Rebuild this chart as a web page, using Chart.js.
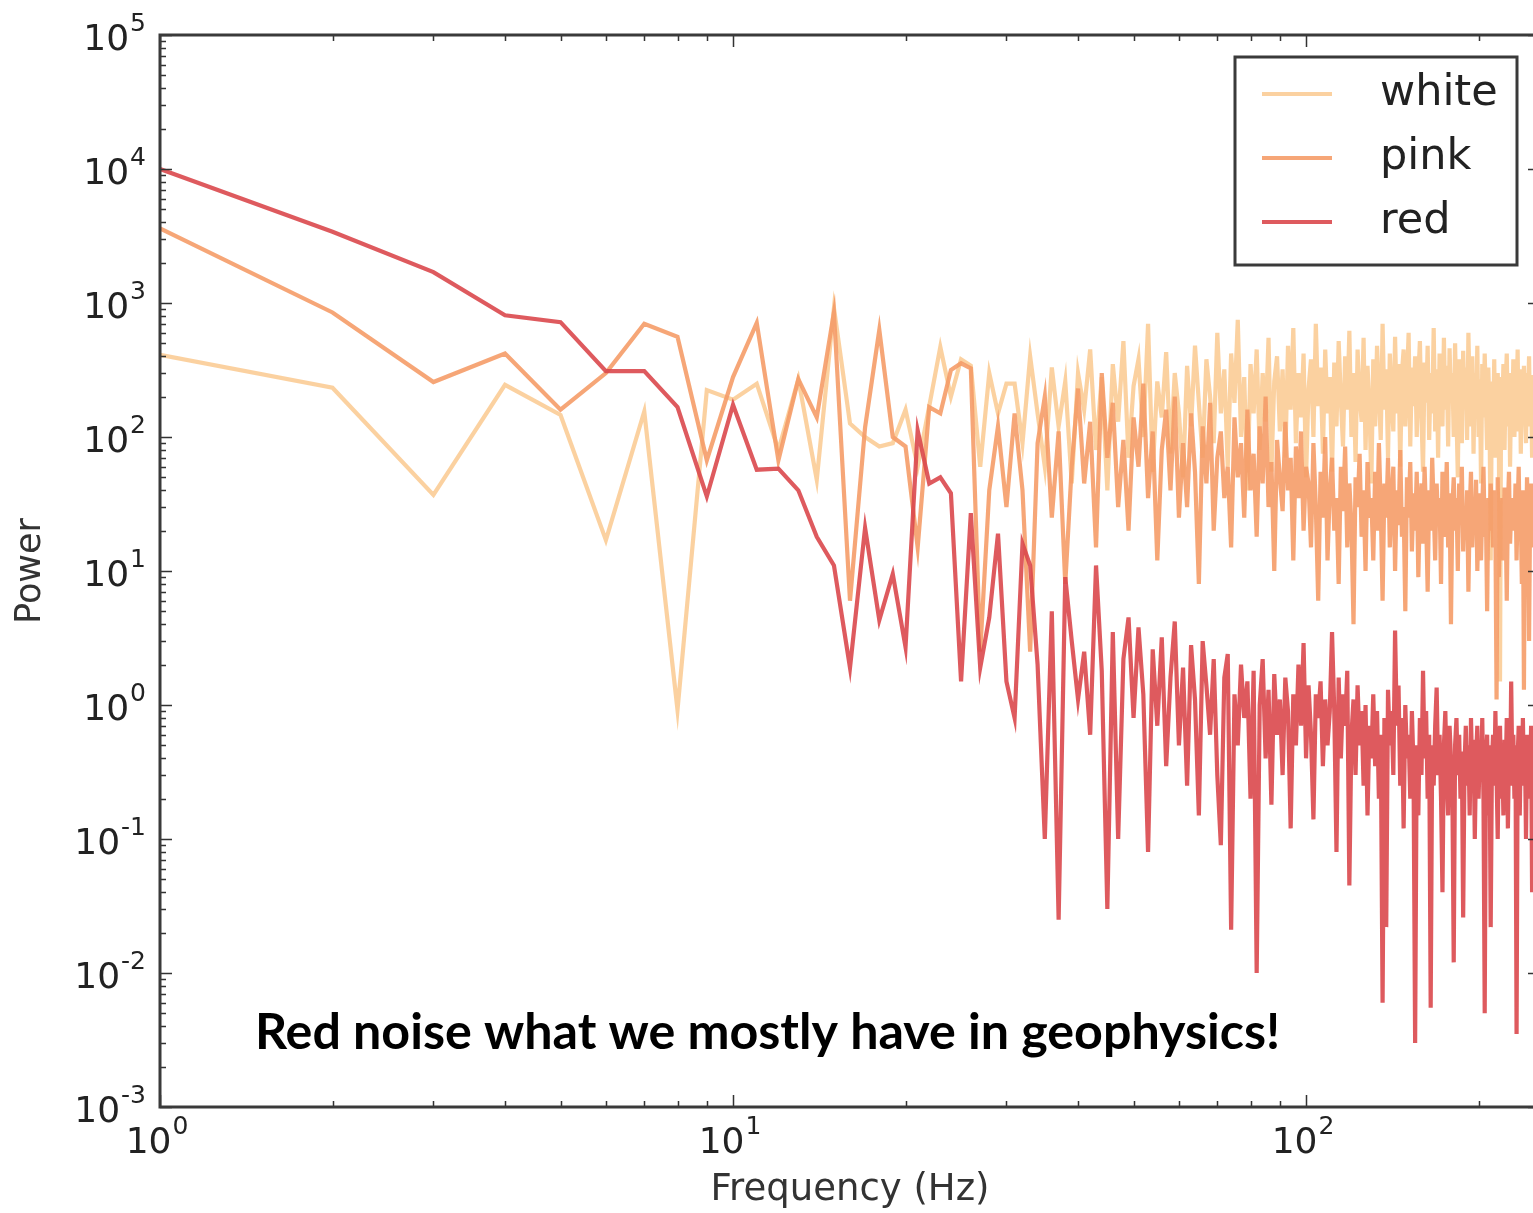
<!DOCTYPE html>
<html>
<head>
<meta charset="utf-8">
<script src="https://cdn.jsdelivr.net/npm/chart.js@4.4.1/dist/chart.umd.min.js"></script>
<style>
  html, body { margin: 0; padding: 0; background: #fff; overflow: hidden; }
  #wrap { position: relative; width: 1550px; height: 1213px; }
</style>
</head>
<body>
<div id="wrap"><canvas id="noise" width="1550" height="1213"></canvas></div>
<script>
// frequency bins (Hz)
const freqs = [
  1,2,3,4,5,6,7,8,9,10,
  11,12,13,14,15,16,17,18,19,20,
  21,22,23,24,25,26,27,28,29,30,
  31,32,33,34,35,36,37,38,39,40,
  41,42,43,44,45,46,47,48,49,50,
  51,52,53,54,55,56,57,58,59,60,
  61,62,63,64,65,66,67,68,69,70,
  71,72,73,74,75,76,77,78,79,80,
  81,82,83,84,85,86,87,88,89,90,
  91,92,93,94,95,96,97,98,99,100,
  101,102,103,104,105,106,107,108,109,110,
  111,112,113,114,115,116,117,118,119,120,
  121,122,123,124,125,126,127,128,129,130,
  131,132,133,134,135,136,137,138,139,140,
  141,142,143,144,145,146,147,148,149,150,
  151,152,153,154,155,156,157,158,159,160,
  161,162,163,164,165,166,167,168,169,170,
  171,172,173,174,175,176,177,178,179,180,
  181,182,183,184,185,186,187,188,189,190,
  191,192,193,194,195,196,197,198,199,200,
  201,202,203,204,205,206,207,208,209,210,
  211,212,213,214,215,216,217,218,219,220,
  221,222,223,224,225,226,227,228,229,230,
  231,232,233,234,235,236,237,238,239,240,
  241,242,243,244,245,246,247,248,249,250
];

const whitePower = [
  410, 233, 37, 245, 146, 17, 155, 0.92, 224, 190,
  250, 80, 270, 48, 920, 126, 100, 85, 90, 160,
  60, 170, 470, 200, 380, 340, 60, 300, 150, 250,
  250, 90, 400, 150, 60, 330, 120, 260, 45, 300,
  160, 450, 80, 280, 40, 350, 130, 520, 70, 240,
  380, 100, 700, 55, 260, 140, 430, 75, 300, 150,
  50, 340, 120, 480, 180, 70, 380, 200, 90, 600,
  150, 320, 60, 420, 180, 750, 100, 280, 40, 350,
  150, 450, 80, 300, 130, 550, 55, 260, 400, 110,
  320, 70, 480, 160, 650, 90, 300, 140, 420, 50,
  230, 380, 100, 700, 170, 330, 75, 450, 150, 280,
  55, 360, 120, 520, 190, 85, 400, 160, 620, 100,
  300, 65, 450, 200, 130, 550, 80, 340, 170, 45,
  380, 120, 480, 210, 95, 700, 160, 320, 70, 420,
  190, 110, 560, 150, 350, 60, 300, 450, 120, 260,
  600, 85, 330, 170, 400, 100, 280, 520, 140, 55,
  360, 180, 480, 95, 300, 150, 650, 110, 320, 70,
  420, 200, 120, 550, 160, 340, 85, 460, 180, 300,
  100, 500, 150, 50, 380, 210, 90, 440, 170, 330,
  95, 600, 200, 120, 400, 75, 300, 160, 480, 100,
  270, 45, 350, 140, 420, 180, 80, 330, 150, 12,
  260, 110, 380, 70, 240, 300, 95, 1.5, 280, 150,
  350, 80, 250, 420, 120, 300, 60, 260, 150, 380,
  100, 280, 170, 450, 110, 320, 75, 250, 140, 340,
  160, 90, 300, 200, 400, 120, 230, 70, 290, 150
];

const pinkPower = [
  3600, 850, 257, 420, 160, 300, 700, 560, 67, 280,
  710, 67, 270, 140, 850, 6, 118, 630, 100, 85,
  15, 167, 150, 316, 355, 325, 2.5, 40, 120, 30,
  150, 40, 2.5, 90, 200, 25, 110, 8, 60, 230,
  45, 130, 15, 300, 70, 180, 30, 95, 20, 140,
  60, 250, 35, 110, 12, 80, 160, 40, 200, 25,
  90, 30, 150, 55, 8, 120, 45, 180, 20, 70,
  110, 35, 60, 15, 140, 50, 90, 25, 160, 40,
  75, 18, 120, 45, 200, 30, 65, 10, 95, 50,
  28, 130, 40, 70, 12, 85, 35, 110, 20, 60,
  45, 15, 90, 30, 6, 55, 25, 100, 12, 40,
  70, 20, 35, 8, 60, 28, 85, 15, 45, 22,
  4, 50, 30, 75, 18, 40, 10, 65, 25, 35,
  12, 55, 20, 90, 30, 6, 45, 25, 70, 15,
  35, 60, 10, 40, 22, 80, 18, 30, 5, 50,
  25, 65, 14, 38, 20, 55, 9, 30, 45, 16,
  60, 25, 7, 40, 20, 70, 30, 12, 45, 22,
  35, 8, 55, 18, 28, 65, 15, 38, 4, 30,
  50, 20, 35, 10, 45, 25, 60, 14, 30, 18,
  40, 7, 28, 55, 15, 32, 20, 48, 10, 25,
  38, 12, 30, 60, 18, 26, 5, 35, 20, 45,
  28, 15, 40, 22, 1.1, 50, 9, 30, 18, 35,
  12, 42, 25, 6, 30, 55, 16, 28, 20, 35,
  20, 45, 12, 30, 60, 18, 25, 8, 40, 1.3,
  32, 14, 50, 20, 3, 28, 45, 15, 30, 25
];

const redPower = [
  10000, 3400, 1700, 810, 720, 310, 310, 167, 36, 174,
  57, 58, 40, 18, 11, 1.9, 21, 4.3, 9.5, 2.7,
  112, 45, 50, 38, 1.5, 27, 1.9, 4.5, 19, 1.5,
  0.8, 16, 11, 2, 0.1, 5, 0.025, 9, 3, 1.1,
  2.5, 0.6, 11, 1.8, 0.03, 3.5, 0.1, 2.2, 4.5, 0.8,
  3.8, 1.2, 0.08, 2.6, 0.7, 3.2, 0.35, 1.6, 4.2, 0.5,
  1.9, 0.25, 2.8, 1.1, 0.15, 3.0, 1.4, 0.6, 2.2, 0.3,
  0.09, 1.6, 2.4, 0.021, 1.2, 0.5, 2.0, 0.8, 1.5, 0.2,
  1.8, 0.01, 1.0, 2.2, 0.4, 1.3, 0.18, 1.7, 0.6, 1.1,
  0.3, 1.6, 0.9, 0.12, 1.2, 0.5, 2.0, 0.7, 2.9, 0.4,
  1.4, 0.6, 0.14, 1.2, 0.8, 1.5, 0.35, 1.1, 0.5, 0.9,
  3.5, 0.9, 0.08, 1.6, 0.4, 1.2, 0.7, 1.8, 0.045, 0.6,
  1.1, 0.3, 1.4, 0.5, 0.9, 0.25, 1.0, 0.15, 0.7, 0.4,
  1.2, 0.35, 0.9, 0.2, 0.6, 0.006, 0.8, 0.022, 1.3, 0.5,
  0.9, 0.3, 3.6, 0.7, 1.4, 0.25, 0.8, 0.12, 1.0, 0.4,
  0.6, 0.2, 0.9, 0.35, 0.003, 0.5, 0.15, 0.8, 0.3, 1.8,
  0.4, 0.9, 0.2, 0.6, 0.0055, 0.5, 0.25, 0.7, 1.35, 0.3,
  0.6, 0.2, 0.04, 0.5, 0.9, 0.3, 0.15, 0.7, 0.4, 0.25,
  0.012, 0.5, 0.8, 0.3, 0.6, 0.2, 0.45, 0.026, 0.35, 0.7,
  0.25, 0.5, 0.15, 0.8, 0.3, 0.55, 0.1, 0.4, 0.7, 0.2,
  0.45, 0.3, 0.8, 0.2, 0.005, 0.4, 0.6, 0.15, 0.5, 0.022,
  0.35, 0.6, 0.25, 0.9, 0.3, 0.1, 0.5, 0.7, 0.2, 0.4,
  0.15, 0.55, 0.3, 0.8, 0.12, 0.45, 0.25, 1.5, 0.35, 0.6,
  0.2, 0.5, 0.0035, 0.4, 0.7, 0.15, 0.5, 0.3, 0.8, 0.25,
  0.45, 0.1, 0.6, 0.3, 0.5, 0.2, 0.7, 0.04, 0.4, 0.3
];

const seriesNames = ['white', 'pink', 'red'];
const seriesColors = ['rgba(251, 204, 150, 0.9)', 'rgba(245, 156, 104, 0.9)', 'rgba(218, 72, 76, 0.9)'];

const xTicks = [1,2,3,4,5,6,7,8,9,10,20,30,40,50,60,70,80,90,100,200];
const yTicks = [
  0.001,0.002,0.003,0.004,0.005,0.006,0.007,0.008,0.009,
  0.01,0.02,0.03,0.04,0.05,0.06,0.07,0.08,0.09,
  0.1,0.2,0.3,0.4,0.5,0.6,0.7,0.8,0.9,
  1,2,3,4,5,6,7,8,9,
  10,20,30,40,50,60,70,80,90,
  100,200,300,400,500,600,700,800,900,
  1000,2000,3000,4000,5000,6000,7000,8000,9000,
  10000,20000,30000,40000,50000,60000,70000,80000,90000,
  100000
];

const noteText = 'Red noise what we mostly have in geophysics!';

function isDecade(v) {
  const l = Math.log10(v);
  return Math.abs(l - Math.round(l)) < 1e-9;
}

// "10" with a raised exponent, anchored by align ('center' or 'right')
function drawPow(ctx, v, ax, baseY, align) {
  const exp = String(Math.round(Math.log10(v)));
  ctx.font = '36px "DejaVu Sans"';
  const wBase = ctx.measureText('10').width;
  ctx.font = '25px "DejaVu Sans"';
  const wExp = ctx.measureText(exp).width;
  const total = wBase + 1 + wExp;
  const x0 = align === 'right' ? ax - total : ax - total / 2;
  ctx.fillStyle = '#222';
  ctx.textAlign = 'left';
  ctx.textBaseline = 'alphabetic';
  ctx.font = '36px "DejaVu Sans"';
  ctx.fillText('10', x0, baseY);
  ctx.font = '25px "DejaVu Sans"';
  ctx.fillText(exp, x0 + wBase + 1, baseY - 19);
}

// frame with inward ticks, tick labels, legend box and the note
const framePlugin = {
  id: 'frame',
  afterDraw(chart) {
    const { ctx, chartArea: a, scales } = chart;
    const x = scales.x, y = scales.y;
    ctx.save();

    ctx.strokeStyle = '#333';
    ctx.lineWidth = 1.5;
    ctx.beginPath();
    x.ticks.forEach(t => {
      const px = Math.round(x.getPixelForValue(t.value)) + 0.5;
      const len = isDecade(t.value) ? 12 : 6;
      ctx.moveTo(px, a.bottom); ctx.lineTo(px, a.bottom - len);
      ctx.moveTo(px, a.top); ctx.lineTo(px, a.top + len);
    });
    y.ticks.forEach(t => {
      const py = Math.round(y.getPixelForValue(t.value)) + 0.5;
      const len = isDecade(t.value) ? 12 : 6;
      ctx.moveTo(a.left, py); ctx.lineTo(a.left + len, py);
      ctx.moveTo(a.right, py); ctx.lineTo(a.right - len, py);
    });
    ctx.stroke();

    ctx.lineWidth = 3;
    ctx.strokeStyle = '#3a3a3a';
    ctx.strokeRect(a.left, a.top, a.right - a.left, a.bottom - a.top);

    // tick labels
    x.ticks.filter(t => isDecade(t.value)).forEach(t => {
      drawPow(ctx, t.value, x.getPixelForValue(t.value) - 3, a.bottom + 46, 'center');
    });
    y.ticks.filter(t => isDecade(t.value)).forEach(t => {
      drawPow(ctx, t.value, 146, y.getPixelForValue(t.value) + 15, 'right');
    });

    // legend
    const lx = 1235, ly = 57, lw = 282, lh = 208;
    ctx.fillStyle = '#fff';
    ctx.fillRect(lx, ly, lw, lh);
    ctx.lineWidth = 3;
    ctx.strokeStyle = '#3a3a3a';
    ctx.strokeRect(lx, ly, lw, lh);
    ctx.font = '43px "DejaVu Sans"';
    ctx.textBaseline = 'middle';
    ctx.textAlign = 'left';
    chart.data.datasets.forEach((ds, i) => {
      const ry = 94 + i * 64;
      ctx.strokeStyle = ds.borderColor;
      ctx.lineWidth = 4;
      ctx.beginPath();
      ctx.moveTo(1262, ry); ctx.lineTo(1332, ry);
      ctx.stroke();
      ctx.fillStyle = '#222';
      ctx.fillText(ds.label, 1380, ry);
    });

    // note
    ctx.font = 'bold 46px Lato';
    const w = ctx.measureText(noteText).width;
    const size = 46 * 1025 / w;
    ctx.font = 'bold ' + size.toFixed(1) + 'px Lato';
    ctx.fillStyle = '#000';
    ctx.textBaseline = 'alphabetic';
    ctx.fillText(noteText, 255, 1049);

    ctx.restore();
  }
};

const series = [whitePower, pinkPower, redPower];

new Chart(document.getElementById('noise'), {
  type: 'line',
  data: {
    datasets: series.map((vals, i) => ({
      label: seriesNames[i],
      data: freqs.map((f, k) => ({ x: f, y: vals[k] })),
      borderColor: seriesColors[i],
      borderWidth: 4.2,
      pointRadius: 0,
      tension: 0,
      fill: false,
      order: 3 - i
    }))
  },
  options: {
    responsive: false,
    animation: false,
    devicePixelRatio: 1,
    events: [],
    layout: { padding: { left: 0, right: 10, top: 35, bottom: 0 } },
    plugins: {
      legend: { display: false },
      tooltip: { enabled: false }
    },
    scales: {
      x: {
        type: 'logarithmic',
        min: 1,
        max: 256,
        grid: { display: false, drawTicks: false },
        border: { display: false },
        afterBuildTicks: s => { s.ticks = xTicks.map(v => ({ value: v })); },
        afterFit: s => { s.height = 106; },
        ticks: { autoSkip: false, maxRotation: 0, callback: () => '' },
        title: {
          display: true,
          text: 'Frequency (Hz)',
          color: '#333',
          font: { family: 'DejaVu Sans', size: 37 },
          padding: { top: 0, bottom: 0 }
        }
      },
      y: {
        type: 'logarithmic',
        min: 0.001,
        max: 100000,
        grid: { display: false, drawTicks: false },
        border: { display: false },
        afterBuildTicks: s => { s.ticks = yTicks.map(v => ({ value: v })); },
        afterFit: s => { s.width = 160; },
        ticks: { autoSkip: false, callback: () => '' },
        title: {
          display: true,
          text: 'Power',
          color: '#333',
          font: { family: 'DejaVu Sans', size: 35 },
          padding: { top: 10, bottom: 0 }
        }
      }
    }
  },
  plugins: [framePlugin]
});
</script>
</body>
</html>
